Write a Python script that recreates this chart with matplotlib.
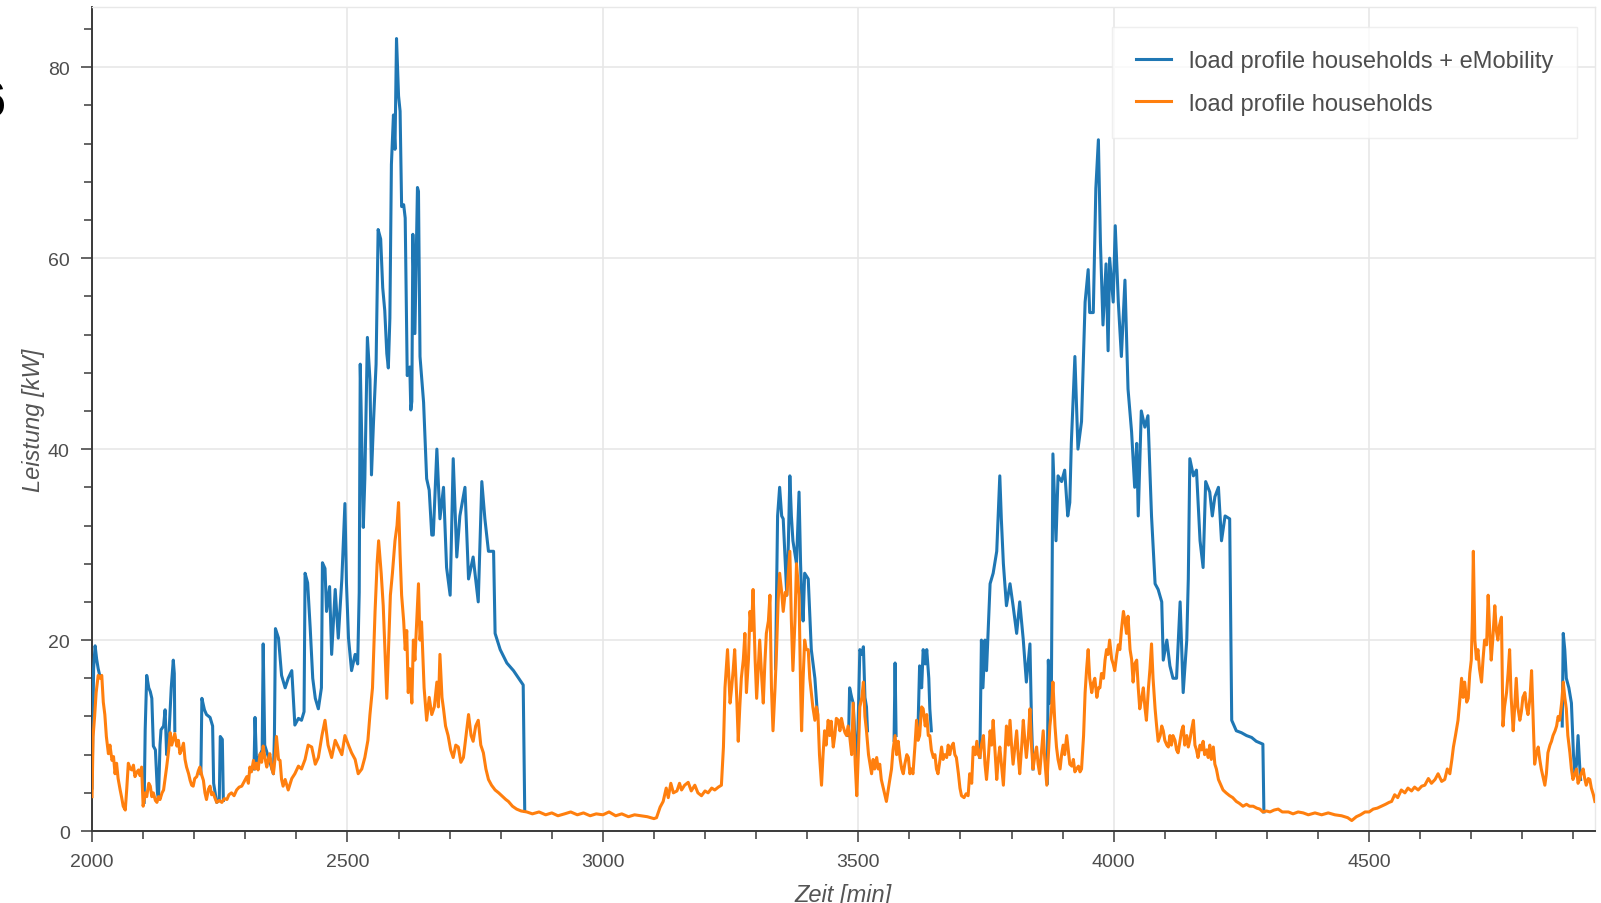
import numpy as np
import matplotlib
matplotlib.use("Agg")
from matplotlib import pyplot as plt
from matplotlib.ticker import MultipleLocator

plt.rcParams["font.family"] = ["Liberation Sans", "DejaVu Sans"]

# load profile of the households alone, (minute, kW)
households = [
    (2000, 3.6), (2002, 9.9), (2005, 12.0), (2008, 14.5), (2012, 16.3), (2016, 16.0), (2019, 16.3),
    (2022, 13.5), (2025, 12.2), (2028, 9.9), (2032, 8.1), (2035, 9.0), (2039, 7.4), (2042, 7.8),
    (2045, 6.0), (2048, 7.1), (2051, 5.5), (2055, 4.3), (2058, 3.5), (2061, 2.6), (2065, 2.2),
    (2068, 4.5), (2071, 7.1), (2075, 6.5), (2078, 6.4), (2081, 6.9), (2084, 5.7), (2088, 6.2),
    (2091, 6.4), (2094, 5.8), (2097, 6.7), (2100, 2.6), (2104, 4.0), (2107, 3.6), (2111, 5.0),
    (2114, 4.7), (2117, 3.6), (2120, 4.0), (2124, 3.2), (2127, 3.0), (2130, 3.6), (2133, 3.3),
    (2137, 4.0), (2140, 4.3), (2143, 5.5), (2146, 6.7), (2150, 8.5), (2153, 10.3), (2156, 9.0),
    (2159, 9.6), (2162, 10.2), (2166, 8.9), (2169, 9.5), (2172, 8.1), (2176, 8.6), (2179, 9.2),
    (2182, 7.5), (2185, 6.7), (2189, 6.0), (2192, 5.3), (2195, 4.8), (2198, 4.7), (2201, 5.5),
    (2205, 5.7), (2208, 6.3), (2211, 6.7), (2215, 5.8), (2218, 5.3), (2221, 4.0), (2224, 3.3),
    (2228, 4.4), (2231, 4.7), (2234, 3.8), (2237, 4.0), (2241, 3.4), (2244, 3.0), (2249, 3.2),
    (2254, 3.0), (2259, 3.4), (2264, 3.3), (2268, 3.8), (2273, 4.0), (2278, 3.7), (2283, 4.3),
    (2288, 4.6), (2293, 4.7), (2298, 5.2), (2303, 5.7), (2306, 5.0), (2309, 6.7), (2312, 6.2),
    (2316, 7.4), (2319, 6.5), (2322, 7.1), (2325, 6.4), (2329, 8.1), (2332, 7.2), (2335, 8.9),
    (2338, 7.8), (2342, 6.7), (2345, 7.5), (2348, 8.1), (2352, 6.5), (2355, 6.0), (2358, 7.5),
    (2361, 9.9), (2365, 7.5), (2368, 7.4), (2371, 5.4), (2374, 4.7), (2378, 5.4), (2384, 4.3),
    (2391, 5.5), (2397, 6.0), (2404, 6.8), (2410, 6.5), (2417, 7.5), (2423, 9.0), (2430, 8.8),
    (2437, 7.0), (2443, 7.7), (2450, 10.0), (2456, 11.6), (2462, 9.0), (2469, 7.7), (2476, 9.5),
    (2482, 8.8), (2489, 8.0), (2495, 10.0), (2502, 9.0), (2508, 8.2), (2515, 7.5), (2521, 6.0),
    (2528, 6.5), (2534, 7.7), (2540, 9.5), (2544, 12.2), (2549, 15.0), (2554, 23.0), (2558, 28.0),
    (2561, 30.4), (2566, 27.0), (2570, 23.6), (2574, 18.0), (2577, 13.9), (2580, 18.5), (2584, 24.7),
    (2588, 27.0), (2593, 30.4), (2597, 32.0), (2600, 34.4), (2603, 29.0), (2606, 24.7), (2610, 22.0),
    (2613, 19.0), (2616, 21.0), (2619, 14.5), (2622, 17.0), (2626, 13.4), (2629, 20.0), (2632, 17.9),
    (2636, 22.5), (2639, 25.9), (2642, 20.0), (2645, 21.9), (2650, 15.0), (2655, 11.6), (2660, 14.0),
    (2665, 12.2), (2670, 13.0), (2675, 15.6), (2678, 13.0), (2681, 18.5), (2685, 14.0), (2688, 12.8),
    (2692, 11.0), (2697, 10.0), (2702, 8.5), (2707, 7.7), (2712, 9.0), (2717, 8.8), (2722, 7.2),
    (2727, 7.7), (2732, 10.0), (2737, 12.2), (2742, 10.0), (2746, 9.4), (2751, 11.0), (2756, 11.6),
    (2761, 9.0), (2766, 8.2), (2771, 6.5), (2776, 5.4), (2782, 4.8), (2789, 4.3), (2796, 4.0),
    (2802, 3.7), (2810, 3.3), (2815, 3.1), (2823, 2.6), (2831, 2.3), (2840, 2.1), (2851, 2.0),
    (2862, 1.8), (2875, 2.0), (2888, 1.7), (2900, 1.9), (2912, 1.6), (2925, 1.8), (2937, 2.0),
    (2950, 1.7), (2962, 1.9), (2975, 1.6), (2987, 1.8), (3000, 1.7), (3012, 2.0), (3025, 1.6),
    (3037, 1.8), (3050, 1.5), (3062, 1.7), (3075, 1.6), (3087, 1.5), (3100, 1.3), (3105, 1.4),
    (3112, 2.5), (3118, 3.1), (3124, 4.5), (3128, 3.5), (3133, 5.0), (3138, 4.0), (3145, 4.2),
    (3150, 5.0), (3154, 4.3), (3160, 4.8), (3167, 5.1), (3173, 4.2), (3180, 4.8), (3186, 4.0),
    (3193, 3.7), (3200, 4.2), (3206, 4.0), (3213, 4.5), (3219, 4.3), (3226, 4.6), (3232, 4.8),
    (3236, 8.8), (3239, 15.0), (3244, 19.0), (3249, 13.4), (3252, 15.0), (3255, 16.8), (3258, 19.0),
    (3262, 14.0), (3265, 9.4), (3268, 13.0), (3271, 16.0), (3275, 18.0), (3278, 20.7), (3281, 14.5),
    (3285, 18.0), (3288, 23.0), (3291, 21.0), (3294, 25.3), (3298, 18.0), (3301, 13.9), (3304, 17.0),
    (3307, 20.0), (3311, 16.0), (3314, 13.4), (3317, 17.5), (3320, 20.7), (3324, 22.0), (3327, 24.7),
    (3330, 15.0), (3333, 10.5), (3337, 15.0), (3340, 19.0), (3343, 24.0), (3346, 27.0), (3350, 25.0),
    (3353, 23.0), (3357, 25.0), (3360, 24.7), (3363, 27.0), (3366, 29.3), (3369, 22.0), (3372, 16.8),
    (3376, 22.0), (3379, 28.0), (3382, 26.0), (3384, 24.7), (3387, 15.0), (3389, 10.5), (3392, 16.0),
    (3395, 20.0), (3398, 19.0), (3402, 19.0), (3405, 16.0), (3408, 14.5), (3411, 13.0), (3415, 11.6),
    (3418, 13.0), (3421, 12.2), (3424, 8.0), (3428, 4.8), (3431, 8.0), (3434, 10.5), (3437, 9.0),
    (3441, 11.6), (3444, 10.0), (3447, 11.5), (3451, 8.8), (3454, 10.0), (3457, 11.8), (3461, 11.6),
    (3464, 10.5), (3467, 11.8), (3470, 11.0), (3474, 10.3), (3477, 10.0), (3480, 11.0), (3483, 10.0),
    (3487, 8.0), (3490, 13.4), (3494, 7.0), (3497, 3.7), (3500, 8.0), (3503, 13.0), (3507, 14.0),
    (3510, 15.6), (3513, 12.0), (3516, 10.5), (3520, 8.0), (3523, 7.0), (3526, 6.0), (3529, 7.5),
    (3532, 6.5), (3536, 7.7), (3539, 6.5), (3542, 7.0), (3545, 5.4), (3549, 4.5), (3552, 3.8),
    (3555, 3.1), (3559, 4.5), (3562, 5.5), (3565, 6.5), (3568, 8.5), (3572, 10.0), (3575, 8.0),
    (3578, 9.4), (3582, 7.5), (3585, 6.5), (3588, 6.0), (3591, 7.0), (3595, 8.0), (3598, 7.7),
    (3601, 6.0), (3604, 6.5), (3607, 6.0), (3611, 9.0), (3614, 11.6), (3617, 9.5), (3620, 10.0),
    (3624, 13.0), (3627, 12.8), (3631, 11.0), (3634, 12.2), (3637, 10.0), (3640, 10.0), (3643, 8.5),
    (3647, 7.7), (3650, 8.0), (3653, 6.5), (3656, 6.0), (3660, 7.5), (3663, 8.8), (3666, 7.5),
    (3669, 8.0), (3673, 7.7), (3676, 9.0), (3679, 8.0), (3682, 8.8), (3686, 9.2), (3689, 8.0),
    (3692, 7.7), (3696, 6.0), (3699, 4.5), (3702, 3.7), (3707, 3.5), (3711, 3.9), (3715, 3.7),
    (3718, 6.0), (3722, 5.0), (3725, 8.8), (3729, 8.0), (3732, 9.4), (3735, 8.0), (3738, 7.7),
    (3741, 9.0), (3745, 10.0), (3748, 7.0), (3751, 5.4), (3755, 8.0), (3758, 10.5), (3761, 9.0),
    (3764, 11.6), (3768, 8.0), (3771, 5.4), (3774, 7.5), (3777, 8.8), (3781, 6.5), (3784, 4.8),
    (3787, 8.0), (3790, 11.0), (3794, 9.0), (3797, 11.6), (3800, 9.0), (3803, 7.0), (3807, 9.0),
    (3810, 10.5), (3813, 8.0), (3816, 6.0), (3820, 9.0), (3823, 11.6), (3826, 9.5), (3829, 7.7),
    (3833, 10.0), (3836, 12.8), (3839, 9.0), (3842, 6.5), (3846, 8.0), (3849, 8.8), (3852, 7.0),
    (3855, 6.0), (3859, 8.5), (3862, 10.5), (3865, 7.5), (3869, 4.8), (3872, 8.0), (3875, 11.0),
    (3878, 12.5), (3881, 15.6), (3885, 11.0), (3888, 8.8), (3891, 7.5), (3895, 6.5), (3898, 8.0),
    (3901, 9.0), (3904, 8.0), (3908, 10.0), (3911, 8.5), (3914, 7.0), (3918, 6.8), (3921, 7.5),
    (3924, 6.2), (3927, 6.5), (3931, 6.8), (3934, 6.2), (3937, 6.5), (3941, 10.0), (3944, 14.5),
    (3947, 17.0), (3950, 19.0), (3953, 16.0), (3957, 14.5), (3960, 15.5), (3963, 16.0), (3967, 14.0),
    (3970, 15.0), (3973, 15.0), (3976, 16.5), (3980, 16.0), (3983, 17.9), (3986, 19.0), (3989, 18.5),
    (3992, 20.0), (3996, 18.0), (3999, 17.5), (4002, 16.8), (4006, 18.5), (4009, 19.5), (4012, 19.0),
    (4015, 21.0), (4019, 23.0), (4022, 22.0), (4025, 20.7), (4028, 22.5), (4032, 19.0), (4035, 18.0),
    (4038, 15.6), (4041, 17.5), (4045, 17.9), (4048, 15.0), (4051, 12.8), (4055, 14.0), (4058, 15.0),
    (4061, 13.0), (4064, 11.6), (4068, 15.0), (4071, 17.0), (4074, 19.6), (4077, 16.0), (4081, 12.8),
    (4084, 11.0), (4087, 9.4), (4091, 10.0), (4094, 11.0), (4097, 10.5), (4100, 9.5), (4104, 9.0),
    (4107, 8.8), (4110, 10.0), (4113, 9.0), (4116, 10.0), (4120, 9.5), (4123, 8.5), (4126, 8.2),
    (4130, 9.5), (4133, 10.5), (4136, 11.0), (4139, 9.0), (4143, 10.0), (4146, 8.8), (4149, 9.5),
    (4152, 10.5), (4156, 11.6), (4159, 9.0), (4162, 8.5), (4165, 7.7), (4169, 9.0), (4172, 8.5),
    (4175, 9.4), (4178, 8.0), (4182, 8.5), (4185, 7.7), (4188, 9.0), (4191, 7.5), (4195, 8.8),
    (4198, 7.0), (4201, 6.5), (4205, 5.4), (4210, 4.8), (4214, 4.3), (4220, 4.0), (4227, 3.7),
    (4233, 3.5), (4240, 3.1), (4246, 2.9), (4253, 2.6), (4260, 2.8), (4266, 2.6), (4273, 2.6),
    (4280, 2.4), (4286, 2.3), (4292, 2.0), (4299, 2.1), (4306, 2.0), (4314, 2.2), (4322, 2.3),
    (4330, 2.0), (4342, 2.0), (4351, 1.8), (4361, 2.0), (4371, 1.9), (4381, 1.7), (4394, 1.9),
    (4407, 1.7), (4420, 1.9), (4433, 1.7), (4446, 1.6), (4458, 1.4), (4466, 1.1), (4475, 1.5),
    (4483, 1.7), (4492, 2.0), (4500, 2.0), (4508, 2.3), (4516, 2.4), (4524, 2.6), (4532, 2.8),
    (4539, 3.0), (4544, 3.1), (4550, 3.8), (4556, 3.5), (4563, 4.3), (4570, 4.0), (4576, 4.5),
    (4583, 4.2), (4589, 4.6), (4596, 4.3), (4603, 4.7), (4609, 4.8), (4616, 5.5), (4622, 5.0),
    (4629, 5.4), (4635, 6.0), (4642, 5.2), (4648, 5.4), (4653, 6.5), (4658, 6.0), (4662, 7.5),
    (4665, 8.8), (4669, 10.0), (4674, 11.6), (4678, 14.0), (4681, 16.0), (4684, 14.0), (4687, 15.6),
    (4691, 13.5), (4694, 13.9), (4697, 16.5), (4700, 17.9), (4702, 22.0), (4704, 29.3), (4707, 20.0),
    (4710, 18.0), (4713, 19.0), (4716, 17.0), (4720, 15.6), (4723, 18.0), (4726, 20.0), (4730, 19.5),
    (4733, 24.7), (4736, 21.0), (4739, 17.9), (4742, 20.0), (4746, 23.6), (4749, 21.0), (4752, 20.0),
    (4755, 21.5), (4759, 22.4), (4762, 11.0), (4765, 13.0), (4769, 14.5), (4772, 16.5), (4775, 19.0),
    (4778, 14.0), (4782, 10.5), (4785, 13.0), (4788, 16.0), (4791, 13.0), (4795, 11.6), (4798, 12.5),
    (4801, 14.0), (4805, 14.5), (4808, 13.0), (4811, 12.2), (4815, 14.0), (4818, 16.8), (4821, 12.0),
    (4824, 7.0), (4827, 8.0), (4831, 8.8), (4834, 7.5), (4837, 6.5), (4841, 5.5), (4844, 4.8),
    (4847, 6.0), (4850, 8.2), (4854, 9.0), (4857, 9.4), (4860, 10.0), (4864, 10.5), (4867, 11.0),
    (4870, 12.0), (4873, 11.6), (4877, 13.5), (4880, 15.6), (4883, 14.0), (4886, 12.8), (4889, 10.0),
    (4893, 8.2), (4896, 6.5), (4899, 5.4), (4903, 6.0), (4906, 6.5), (4909, 5.0), (4912, 5.4),
    (4915, 6.0), (4919, 6.5), (4922, 5.5), (4925, 4.8), (4929, 5.5), (4932, 5.4), (4935, 4.5),
    (4939, 3.8), (4942, 3.1),
]

# households + eMobility, only the stretches where charging lifts it above the household curve
emobility_parts = [
    [(2000, 4.5), (2003, 17.0), (2006, 19.4), (2009, 18.0), (2012, 17.0), (2015, 16.3)],
    [(2102, 3.0), (2104, 10.6), (2107, 16.3), (2111, 15.0), (2114, 14.6), (2117, 13.9), (2120, 8.9),
     (2124, 8.5), (2128, 4.0), (2130, 3.3), (2133, 9.0), (2135, 10.6), (2140, 11.0), (2143, 12.7),
     (2146, 8.0), (2150, 9.5), (2155, 15.0), (2159, 17.9), (2161, 16.5), (2162, 10.5)],
    [(2213, 6.0), (2215, 13.9), (2220, 12.7), (2224, 12.2), (2231, 11.9), (2236, 11.0), (2238, 5.0),
     (2244, 3.0), (2249, 3.2), (2251, 9.9), (2255, 9.6), (2257, 3.2)],
    [(2317, 6.5), (2319, 11.9), (2322, 7.1), (2333, 8.5), (2335, 19.6), (2338, 9.0), (2355, 6.0),
     (2357, 10.0), (2359, 21.2), (2365, 20.2), (2371, 16.3), (2378, 15.0), (2384, 16.0), (2391, 16.8),
     (2397, 11.1), (2404, 11.8), (2410, 11.6), (2415, 12.5), (2417, 27.0), (2422, 26.0), (2427, 21.3),
     (2432, 16.0), (2437, 13.9), (2443, 12.8), (2449, 15.0), (2451, 28.1), (2456, 27.5), (2459, 23.0),
     (2465, 25.6), (2469, 18.5), (2476, 25.3), (2482, 20.2), (2489, 26.4), (2495, 34.3), (2498, 26.0),
     (2502, 20.2), (2508, 16.8), (2515, 18.5), (2520, 17.5), (2523, 25.0), (2525, 48.9), (2528, 40.9),
     (2531, 31.8), (2534, 36.9), (2539, 51.7), (2544, 47.3), (2547, 37.3), (2551, 42.9), (2556, 48.9),
     (2560, 63.0), (2565, 62.0), (2569, 56.9), (2573, 54.5), (2577, 50.0), (2580, 48.5), (2583, 53.7),
     (2586, 69.8), (2590, 75.0), (2593, 71.4), (2596, 83.0), (2600, 77.0), (2603, 75.4), (2606, 65.4),
     (2610, 65.6), (2613, 64.2), (2617, 47.7), (2622, 48.6), (2624, 44.1), (2626, 45.0), (2628, 62.5),
     (2632, 52.1), (2637, 67.4), (2639, 67.0), (2642, 49.7), (2649, 44.9), (2655, 36.9), (2660, 35.7),
     (2665, 31.0), (2668, 31.0), (2675, 40.0), (2681, 32.7), (2688, 36.0), (2694, 27.6), (2701, 24.7),
     (2707, 39.0), (2714, 28.7), (2720, 33.0), (2730, 36.0), (2737, 26.4), (2746, 28.7), (2756, 24.0),
     (2763, 36.6), (2769, 32.7), (2776, 29.3), (2786, 29.3), (2789, 20.7), (2799, 19.0), (2812, 17.6),
     (2825, 16.8), (2835, 16.0), (2844, 15.3), (2847, 2.1)],
    [(3338, 17.0), (3342, 33.0), (3346, 36.0), (3350, 33.0), (3353, 32.7), (3357, 28.0), (3360, 24.7),
     (3363, 30.0), (3366, 37.2), (3369, 33.0), (3372, 30.4), (3376, 29.0), (3379, 28.0), (3384, 35.5),
     (3387, 28.0), (3389, 24.7), (3392, 22.0), (3395, 27.0), (3402, 26.4), (3408, 19.0), (3415, 16.0),
     (3420, 12.2)],
    [(3481, 10.0), (3483, 15.0), (3487, 14.0), (3490, 13.4), (3494, 9.0), (3497, 6.0), (3500, 12.0),
     (3503, 19.0), (3507, 18.5), (3510, 19.3), (3513, 14.0), (3516, 13.0), (3518, 10.5)],
    [(3570, 9.5), (3572, 17.6), (3574, 10.0)],
    [(3617, 11.0), (3620, 17.3), (3624, 15.0), (3627, 19.0), (3631, 17.5), (3634, 19.0), (3638, 16.0),
     (3640, 12.8), (3643, 10.5)],
    [(3738, 7.7), (3741, 20.0), (3744, 15.0), (3748, 20.0), (3751, 16.8), (3758, 25.9), (3764, 27.0),
     (3771, 29.3), (3777, 37.2), (3780, 32.7), (3784, 28.0), (3790, 23.6), (3797, 25.9), (3803, 23.6),
     (3810, 20.7), (3816, 24.0), (3823, 20.0), (3829, 15.6), (3836, 19.6), (3839, 11.6), (3842, 6.5)],
    [(3870, 5.0), (3872, 17.9), (3875, 13.4), (3878, 15.0), (3881, 39.5), (3887, 30.4), (3891, 37.2),
     (3898, 36.6), (3904, 37.8), (3910, 33.0), (3914, 34.4), (3917, 40.6), (3924, 49.7), (3930, 40.0),
     (3937, 42.9), (3944, 55.4), (3950, 58.8), (3953, 54.3), (3960, 54.3), (3965, 67.3), (3970, 72.4),
     (3974, 61.6), (3979, 53.0), (3985, 59.4), (3989, 50.3), (3992, 60.0), (3999, 55.4), (4003, 63.4),
     (4009, 55.4), (4015, 49.7), (4022, 57.7), (4028, 46.3), (4035, 41.8), (4041, 36.0), (4045, 40.6),
     (4048, 33.0), (4054, 44.0), (4061, 42.3), (4067, 43.5), (4074, 33.0), (4081, 25.9), (4087, 25.3),
     (4094, 24.0), (4097, 17.9), (4104, 20.0), (4110, 17.3), (4116, 16.0), (4123, 16.0), (4130, 24.0),
     (4136, 14.5), (4143, 20.0), (4146, 26.4), (4149, 39.0), (4156, 37.2), (4162, 37.8), (4169, 30.4),
     (4175, 27.6), (4180, 36.6), (4188, 35.5), (4193, 33.0), (4198, 35.0), (4205, 36.0), (4211, 30.4),
     (4218, 33.0), (4227, 32.7), (4231, 11.6), (4240, 10.5), (4250, 10.3), (4260, 10.0), (4270, 9.8),
     (4279, 9.4), (4292, 9.1), (4294, 2.0)],
    [(4878, 11.0), (4880, 20.7), (4883, 19.0), (4886, 16.0), (4891, 15.0), (4896, 13.4), (4900, 8.0),
     (4903, 6.0), (4906, 7.0), (4909, 10.0), (4912, 7.0), (4914, 5.4)],
]

hh = np.array(households)
ev_t, ev_p = [], []
for part in emobility_parts:
    arr = np.array(part)
    ev_t += list(arr[:, 0]) + [np.nan]
    ev_p += list(arr[:, 1]) + [np.nan]

fig = plt.figure(figsize=(16.01, 9.04), dpi=100)
ax = fig.add_axes([0.0575, 0.0796, 0.9387, 0.9115])

ax.plot(ev_t, ev_p, color="#1f77b4", lw=2.2, label="load profile households + eMobility", zorder=3)
ax.plot(hh[:, 0], hh[:, 1], color="#ff7f0e", lw=2.2, label="load profile households", zorder=4)

ax.set_xlim(2000, 4942)
ax.set_ylim(0, 86.3)
ax.xaxis.set_major_locator(MultipleLocator(500))
ax.xaxis.set_minor_locator(MultipleLocator(100))
ax.yaxis.set_major_locator(MultipleLocator(20))
ax.yaxis.set_minor_locator(MultipleLocator(4))

ax.grid(True, which="major", color="#e6e6e6", lw=1.1, zorder=0)
ax.set_axisbelow(True)

for side in ["left", "bottom"]:
    ax.spines[side].set_color("#3a3a3a")
    ax.spines[side].set_linewidth(1.4)
for side in ["top", "right"]:
    ax.spines[side].set_color("#e8e8e8")
    ax.spines[side].set_linewidth(1.0)

ax.tick_params(which="major", direction="out", length=8, width=1.1, color="#3a3a3a",
               labelsize=14, labelcolor="#4d4d4d", pad=8)
ax.tick_params(which="minor", direction="out", length=5.5, width=1.1, color="#3a3a3a")
ax.tick_params(top=False, right=False, which="both")

ax.set_xlabel("Zeit [min]", fontsize=17, style="italic", color="#555555", labelpad=9)
ax.set_ylabel("Leistung [kW]", fontsize=17, style="italic", color="#555555", labelpad=2)

leg = ax.legend(loc="upper right", bbox_to_anchor=(0.988, 0.976), fontsize=17, frameon=True,
                fancybox=False, borderpad=1.0, labelspacing=0.85, handlelength=1.5,
                handletextpad=0.75, borderaxespad=0)
leg.get_frame().set_edgecolor("#ebebeb")
leg.get_frame().set_linewidth(1.0)
for txt in leg.get_texts():
    txt.set_color("#4d4d4d")

# stray page glyph cut off at the left margin
fig.text(0.003, 0.885, "6", fontsize=36, weight="bold", ha="right", va="center", color="black")

fig.savefig("out.png", dpi=100)
